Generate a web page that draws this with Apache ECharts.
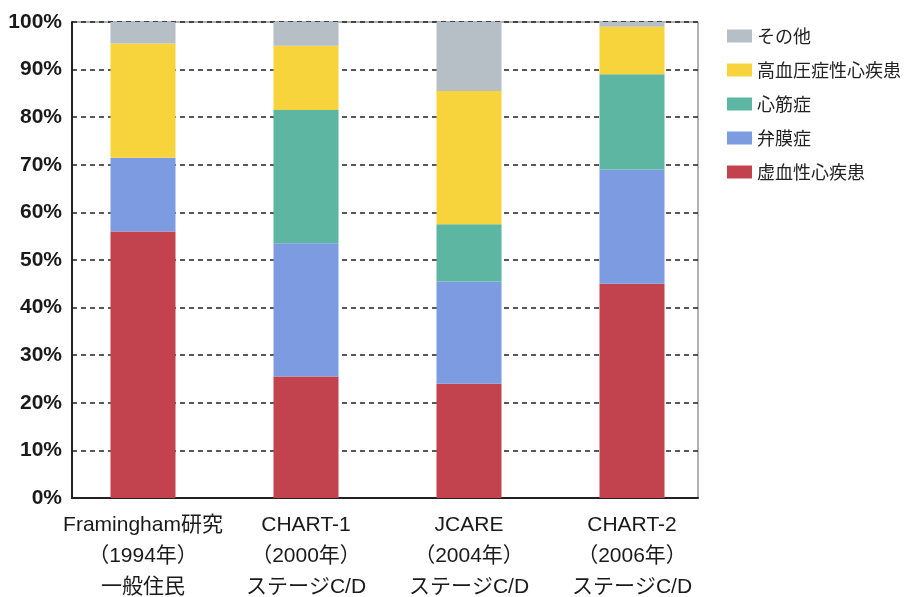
<!DOCTYPE html>
<html>
<head>
<meta charset="utf-8">
<script src="https://cdn.jsdelivr.net/npm/echarts@6/dist/echarts.min.js"></script>
<style>
  html, body { margin: 0; padding: 0; background: #fff; }
  #chart { width: 915px; height: 597px; }
</style>
</head>
<body>
<div id="chart"></div>
<script>
// Study cohorts along the x axis
const categories = [
  'Framingham研究\n（1994年）\n一般住民',
  'CHART-1\n（2000年）\nステージC/D',
  'JCARE\n（2004年）\nステージC/D',
  'CHART-2\n（2006年）\nステージC/D'
];

// Share of each heart-failure cause (%), stacked bottom to top
const ischemic     = [56, 25.5, 24, 45];   // 虚血性心疾患
const valvular     = [15.5, 28, 21.5, 24]; // 弁膜症
const myopathy     = [0, 28, 12, 20];      // 心筋症
const hypertensive = [24, 13.5, 28, 10];   // 高血圧症性心疾患
const other        = [4.5, 5, 14.5, 1];    // その他

const yTicks = [0, 10, 20, 30, 40, 50, 60, 70, 80, 90, 100];

const seriesDefs = [
  { name: '虚血性心疾患', data: ischemic, color: '#c2434d' },
  { name: '弁膜症', data: valvular, color: '#7d9be0' },
  { name: '心筋症', data: myopathy, color: '#5db6a2' },
  { name: '高血圧症性心疾患', data: hypertensive, color: '#f8d43c' },
  { name: 'その他', data: other, color: '#b6bec6' }
];

const latin = "'Liberation Sans', 'Noto Sans CJK JP', sans-serif";
const chart = echarts.init(document.getElementById('chart'), null, { renderer: 'canvas' });

chart.setOption({
  animation: false,
  backgroundColor: '#ffffff',
  legend: {
    orient: 'vertical',
    left: 722,
    top: 22,
    itemWidth: 25,
    itemHeight: 13,
    itemGap: 16,
    icon: 'rect',
    data: ['その他', '高血圧症性心疾患', '心筋症', '弁膜症', '虚血性心疾患'],
    textStyle: { fontFamily: "'Noto Sans CJK JP', sans-serif", fontSize: 18, color: '#222' }
  },
  grid: [
    // frame, gridlines and percentage ticks
    { left: 72, top: 22, width: 626, height: 476, show: true, borderColor: '#666', borderWidth: 1,
      backgroundColor: 'transparent', outerBoundsMode: 'none', containLabel: false },
    // bars and cohort labels
    { left: 61.5, top: 22, width: 652, height: 476, outerBoundsMode: 'none', containLabel: false }
  ],
  xAxis: [
    {
      gridIndex: 0, type: 'category', data: categories,
      axisLine: { show: true, lineStyle: { color: '#222', width: 2 } },
      axisTick: { show: false }, axisLabel: { show: false }, splitLine: { show: false }
    },
    {
      gridIndex: 1, type: 'category', data: categories,
      axisLine: { show: false }, axisTick: { show: false },
      axisLabel: {
        margin: 12, fontFamily: latin, fontSize: 21, lineHeight: 31, color: '#1a1a1a', interval: 0
      }
    }
  ],
  yAxis: [
    {
      gridIndex: 0, type: 'value', min: 0, max: 100, interval: 10,
      axisLine: { show: true, lineStyle: { color: '#222', width: 2 } },
      axisTick: { show: false },
      axisLabel: {
        formatter: function (v) { return yTicks.indexOf(v) >= 0 ? v + '%' : ''; },
        fontFamily: latin, fontWeight: 'bold', fontSize: 21, color: '#1a1a1a', margin: 10
      },
      splitLine: { show: true, lineStyle: { color: '#222', width: 1.5, type: [5, 4] } }
    },
    {
      gridIndex: 1, type: 'value', min: 0, max: 100, interval: 10,
      axisLine: { show: false }, axisTick: { show: false }, axisLabel: { show: false }, splitLine: { show: false }
    }
  ],
  series: seriesDefs.map(s => ({
    name: s.name,
    type: 'bar',
    stack: 'total',
    xAxisIndex: 1,
    yAxisIndex: 1,
    barWidth: 65,
    data: s.data,
    itemStyle: { color: s.color }
  }))
});
</script>
</body>
</html>
